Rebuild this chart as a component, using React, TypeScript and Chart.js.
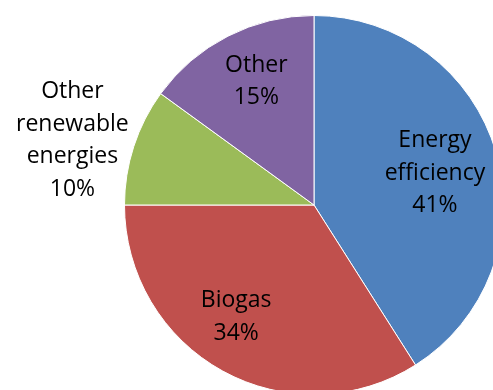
import React, { useEffect, useRef } from "react";
import { Chart, registerables } from "chart.js";

Chart.register(...registerables);

const categories = ["Energy efficiency", "Biogas", "Other renewable energies", "Other"];
const shares = [41, 34, 10, 15];
const sliceColors = ["#4F81BD", "#C0504D", "#9BBB59", "#8064A2"];
// Wrapped label lines per slice
const labelLines = [
  ["Energy", "efficiency"],
  ["Biogas"],
  ["Other", "renewable", "energies"],
  ["Other"],
];
// Label placement: angle offset (deg) from slice mid-angle, distance as fraction of radius
const labelAngleOffset = [1.5, 6, -3, 2];
const labelRadiusFrac = [0.66, 0.72, 1.32, 0.72];

const FONT = '23px "Open Sans"';
const LINE_H = 32.5;

const labelPlugin = {
  id: "sliceLabels",
  afterDatasetsDraw(chart: any) {
    const ctx = chart.ctx;
    const meta = chart.getDatasetMeta(0);
    ctx.save();
    ctx.font = FONT;
    ctx.fillStyle = "#000";
    ctx.textAlign = "center";
    ctx.textBaseline = "middle";
    meta.data.forEach((arc: any, i: number) => {
      const { x, y, startAngle, endAngle, outerRadius } = arc.getProps(
        ["x", "y", "startAngle", "endAngle", "outerRadius"],
        true
      );
      const mid = (startAngle + endAngle) / 2 + (labelAngleOffset[i] * Math.PI) / 180;
      const d = outerRadius * labelRadiusFrac[i];
      const cx = x + Math.cos(mid) * d;
      const cy = y + Math.sin(mid) * d;
      const lines = [...labelLines[i], `${shares[i]}%`];
      const top = cy - ((lines.length - 1) * LINE_H) / 2;
      lines.forEach((t, k) => ctx.fillText(t, cx, top + k * LINE_H));
    });
    ctx.restore();
  },
};

export default function App() {
  const ref = useRef<HTMLCanvasElement | null>(null);
  useEffect(() => {
    if (!ref.current) return;
    const chart = new Chart(ref.current, {
      type: "pie",
      data: {
        labels: categories,
        datasets: [
          {
            data: shares,
            backgroundColor: sliceColors,
            borderColor: "#ffffff",
            borderWidth: 1,
          },
        ],
      },
      options: {
        responsive: false,
        animation: false,
        layout: { padding: { left: 124, top: 15, right: 96, bottom: 105 } },
        plugins: {
          legend: { display: false },
          tooltip: { enabled: false },
        },
      },
      plugins: [labelPlugin],
    });
    return () => chart.destroy();
  }, []);
  return (
    <div
      style={{
        position: "fixed",
        left: 0,
        top: 0,
        width: 493,
        height: 390,
        overflow: "hidden",
        background: "#fff",
      }}
    >
      <canvas ref={ref} width={600} height={500} style={{ display: "block" }} />
    </div>
  );
}
